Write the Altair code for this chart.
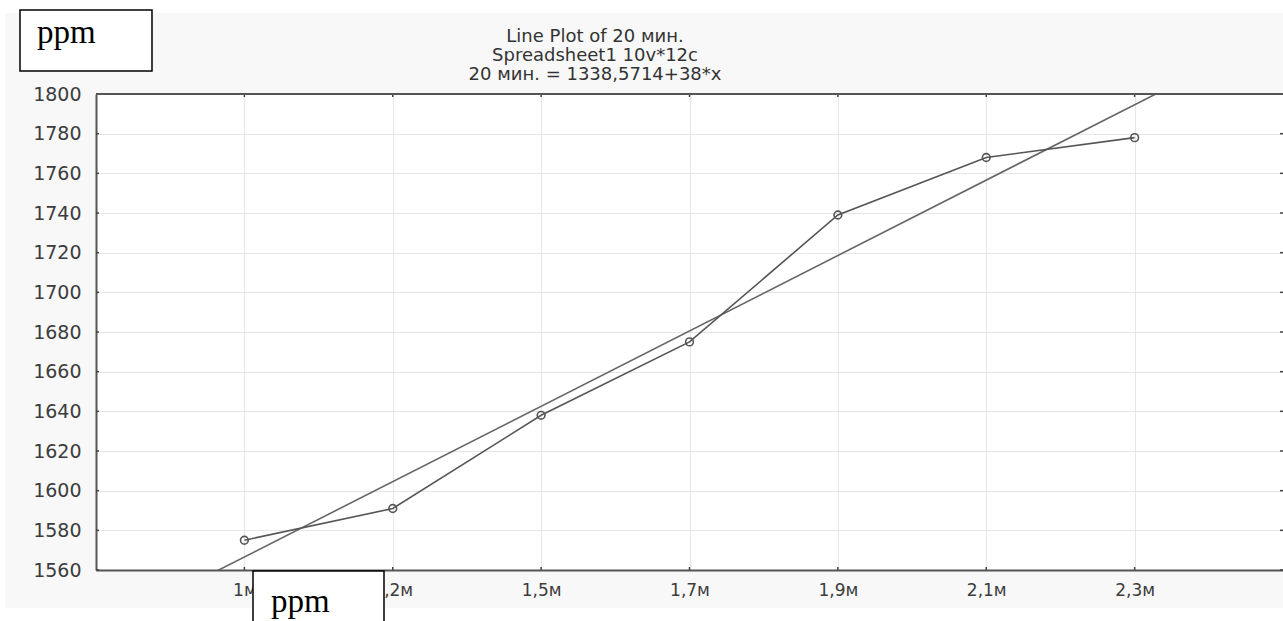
import json

import altair as alt
import pandas as pd

# Measurement positions along the x axis and their tick labels
positions = [1, 2, 3, 4, 5, 6, 7]
x_labels = ["1м", "1,2м", "1,5м", "1,7м", "1,9м", "2,1м", "2,3м"]

# 20-minute readings (ppm)
concentration = [1575, 1591, 1638, 1675, 1739, 1768, 1778]

# Fitted line as printed in the title: 20 мин. = 1338,5714 + 38*x,
# where x is the spreadsheet case number (position + 5)
intercept = 1338.5714
slope = 38
case_offset = 5

y_ticks = [1560, 1580, 1600, 1620, 1640, 1660, 1680, 1700, 1720, 1740, 1760, 1780, 1800]

title_lines = ["Line Plot of 20 мин.", "Spreadsheet1 10v*12c", "20 мин. = 1338,5714+38*x"]
box_label = "ppm"

W, H = 1187, 476
PAD_L, PAD_T, PAD_B = 96, 94, 51

AXIS_FONT = "DejaVu Sans"
INK = "#555555"
LABEL_INK = "#3c3c3c"

data = pd.DataFrame({"pos": positions, "value": concentration})
fit_span = pd.DataFrame({"pos": [0, 8]})
one = pd.DataFrame({"k": [0]})

x_scale = alt.Scale(domain=[0, 8], nice=False, zero=False)
y_scale = alt.Scale(domain=[1560, 1800], nice=False, zero=False)

label_expr = json.dumps([""] + x_labels + [""], ensure_ascii=False) + "[datum.value]"

x_axis = alt.Axis(values=positions, labelExpr=label_expr, title=None)
y_axis = alt.Axis(values=y_ticks, format="d", title=None)

# White outer margin around the grey chart panel
margins = alt.Chart(one).mark_rect(color="white").encode(
    x=alt.value(-PAD_L), x2=alt.value(W), y=alt.value(-PAD_T), y2=alt.value(-PAD_T + 13)
) + alt.Chart(one).mark_rect(color="white").encode(
    x=alt.value(-PAD_L), x2=alt.value(W), y=alt.value(H + 38), y2=alt.value(H + PAD_B)
) + alt.Chart(one).mark_rect(color="white").encode(
    x=alt.value(-PAD_L), x2=alt.value(-PAD_L + 5), y=alt.value(-PAD_T), y2=alt.value(H + PAD_B)
)

fit_line = (
    alt.Chart(fit_span)
    .transform_calculate(fit=f"{intercept} + {slope} * (datum.pos + {case_offset})")
    .mark_line(color="#666666", strokeWidth=1.6, clip=True)
    .encode(
        x=alt.X("pos:Q", scale=x_scale, axis=x_axis),
        y=alt.Y("fit:Q", scale=y_scale, axis=y_axis),
    )
)

series = alt.Chart(data).mark_line(color=INK, strokeWidth=1.6).encode(
    x=alt.X("pos:Q", scale=x_scale, axis=x_axis),
    y=alt.Y("value:Q", scale=y_scale, axis=y_axis),
)

markers = alt.Chart(data).mark_point(
    shape="circle", filled=False, color=INK, size=60, strokeWidth=1.6, opacity=1
).encode(
    x=alt.X("pos:Q", scale=x_scale, axis=x_axis),
    y=alt.Y("value:Q", scale=y_scale, axis=y_axis),
)

ytick_df = pd.DataFrame({"v": y_ticks})
pos_df = pd.DataFrame({"pos": positions})

left_ticks = alt.Chart(ytick_df).mark_rule(color="#444444", strokeWidth=1.5).encode(
    y=alt.Y("v:Q", scale=y_scale, axis=y_axis), x=alt.value(0), x2=alt.value(3)
)
right_ticks = alt.Chart(ytick_df).mark_rule(color="#444444", strokeWidth=1.5).encode(
    y=alt.Y("v:Q", scale=y_scale, axis=y_axis), x=alt.value(W - 3), x2=alt.value(W)
)
bottom_ticks = alt.Chart(pos_df).mark_rule(color="#444444", strokeWidth=1.5).encode(
    x=alt.X("pos:Q", scale=x_scale, axis=x_axis), y=alt.value(H - 3), y2=alt.value(H)
)
top_ticks = alt.Chart(pos_df).mark_rule(color="#444444", strokeWidth=1.5).encode(
    x=alt.X("pos:Q", scale=x_scale, axis=x_axis), y=alt.value(0), y2=alt.value(3)
)
top_frame = alt.Chart(one).mark_rule(color=INK, strokeWidth=2).encode(
    x=alt.value(0), x2=alt.value(W), y=alt.value(0)
)

title_center = 595 - PAD_L
title_layers = [
    alt.Chart(one).mark_text(
        text=line, font=AXIS_FONT, fontSize=18, color="#333333", align="center", baseline="middle"
    ).encode(x=alt.value(title_center), y=alt.value(y))
    for line, y in zip(title_lines, [37 - PAD_T, 56 - PAD_T, 75 - PAD_T])
]


def ppm_box(x0, y0, x1, y1, tx, ty):
    box = alt.Chart(one).mark_rect(fill="white", stroke="black", strokeWidth=1.5).encode(
        x=alt.value(x0 - PAD_L), x2=alt.value(x1 - PAD_L),
        y=alt.value(y0 - PAD_T), y2=alt.value(y1 - PAD_T),
    )
    txt = alt.Chart(one).mark_text(
        text=box_label, font="Liberation Serif", fontSize=33, color="black",
        align="left", baseline="alphabetic",
    ).encode(x=alt.value(tx - PAD_L), y=alt.value(ty - PAD_T))
    return box + txt


boxes = ppm_box(20, 10, 152, 71, 37, 43) + ppm_box(253, 571, 384, 640, 271, 612)

chart = alt.layer(
    margins,
    fit_line,
    series,
    markers,
    left_ticks,
    right_ticks,
    bottom_ticks,
    top_ticks,
    top_frame,
    *title_layers,
    boxes,
).properties(
    width=W,
    height=H,
    autosize=alt.AutoSizeParams(type="none"),
    padding={"left": PAD_L, "top": PAD_T, "right": 0, "bottom": PAD_B},
    background="#f8f8f8",
).configure_view(
    fill="white", stroke=None
).configure_axis(
    grid=True,
    gridColor="#e6e6e6",
    gridWidth=1,
    domain=True,
    domainColor=INK,
    domainWidth=2,
    ticks=False,
    tickSize=0,
    labelFont=AXIS_FONT,
    labelColor=LABEL_INK,
    labelOverlap=False,
).configure_axisX(
    labelFontSize=17,
    labelPadding=12,
).configure_axisY(
    labelFontSize=19,
    labelPadding=15,
)

chart.save("out.html", embed_options={"renderer": "svg", "actions": False})
